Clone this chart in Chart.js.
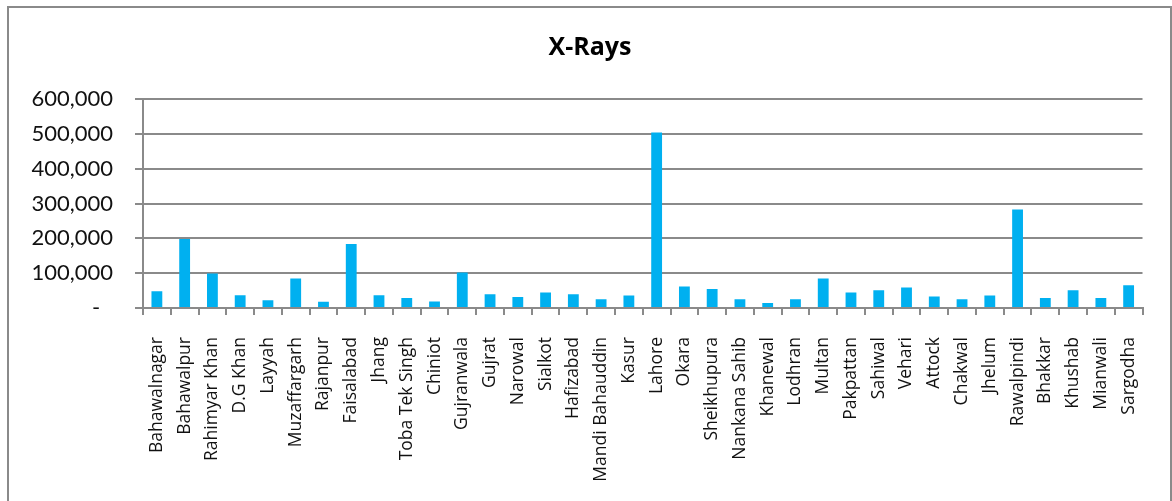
<!DOCTYPE html>
<html>
<head>
<meta charset="utf-8">
<title>X-Rays</title>
<script src="https://cdn.jsdelivr.net/npm/chart.js@4"></script>
<style>
  html, body { margin: 0; padding: 0; background: #fff; overflow: hidden; }
  #wrap { position: relative; width: 1172px; height: 501px; }
  #frame {
    position: absolute; left: 7px; top: 6px; width: 1161px; height: 530px;
    border: 2px solid #8a8a8a; pointer-events: none;
  }
  canvas { position: absolute; left: 0; top: 0; }
</style>
</head>
<body>
<div id="wrap">
  <canvas id="xrayChart" width="1172" height="501"></canvas>
  <div id="frame"></div>
</div>
<script>
const districts = [
  "Bahawalnagar", "Bahawalpur", "Rahimyar Khan", "D.G Khan", "Layyah",
  "Muzaffargarh", "Rajanpur", "Faisalabad", "Jhang", "Toba Tek Singh",
  "Chiniot", "Gujranwala", "Gujrat", "Narowal", "Sialkot", "Hafizabad",
  "Mandi Bahauddin", "Kasur", "Lahore", "Okara", "Sheikhupura",
  "Nankana Sahib", "Khanewal", "Lodhran", "Multan", "Pakpattan", "Sahiwal",
  "Vehari", "Attock", "Chakwal", "Jhelum", "Rawalpindi", "Bhakkar",
  "Khushab", "Mianwali", "Sargodha"
];

// number of x-ray examinations per district
const xrays = [
  48000, 198000, 99000, 36500, 22000,
  84500, 18000, 184000, 36500, 28700,
  18400, 101700, 39400, 31600, 44200, 39400,
  25000, 35600, 504000, 61500, 54600,
  25000, 14400, 25000, 84500, 44200, 50900,
  58600, 32800, 25000, 35600, 282800, 28700,
  50900, 28700, 65200
];

const yTicks = [0, 100000, 200000, 300000, 400000, 500000, 600000];

const gridGray = "#8a8a8a";
const numFont = "Lato, 'Liberation Sans', sans-serif";
const labelFont = "'Open Sans', 'Noto Sans', sans-serif";

// accounting style: zero shows as a dash
function formatCount(v) {
  if (v === 0) return "-\u2007";
  return v.toLocaleString("en-US");
}

const ctx = document.querySelector("#xrayChart");

new Chart(ctx, {
  type: "bar",
  data: {
    labels: districts,
    datasets: [{
      label: "X-Rays",
      data: xrays,
      backgroundColor: "#00B0F0",
      borderWidth: 0,
      categoryPercentage: 1,
      barPercentage: 0.39
    }]
  },
  options: {
    responsive: false,
    animation: false,
    devicePixelRatio: 1,
    layout: { padding: { left: 8, right: 0, top: 0, bottom: 0 } },
    plugins: {
      legend: { display: false },
      tooltip: { enabled: false },
      title: {
        display: true,
        text: "X-Rays",
        color: "#000",
        font: { family: labelFont, size: 25, weight: "bold" },
        padding: { top: 33, bottom: 36 }
      }
    },
    scales: {
      x: {
        grid: {
          display: true,
          drawOnChartArea: false,
          drawTicks: true,
          tickLength: 7,
          color: gridGray,
          lineWidth: 2
        },
        border: { display: true, color: gridGray, width: 2 },
        ticks: {
          autoSkip: false,
          maxRotation: 90,
          minRotation: 90,
          padding: 22,
          color: "#111",
          font: { family: labelFont, size: 17.5 }
        },
        afterFit(scale) { scale.height = 193; }
      },
      y: {
        min: 0,
        max: 600000,
        afterBuildTicks(scale) {
          scale.ticks = yTicks.map(v => ({ value: v }));
        },
        grid: {
          color: gridGray,
          lineWidth: 2,
          tickLength: 8
        },
        border: { display: true, color: gridGray, width: 2 },
        ticks: {
          padding: 22,
          color: "#111",
          font: { family: numFont, size: 22 },
          callback: v => formatCount(v)
        },
        afterFit(scale) { scale.width = 135; }
      },
      // empty right-hand gutter so the title centres on the whole frame
      gutter: {
        type: "linear",
        position: "right",
        display: true,
        grid: { display: false },
        border: { display: false },
        ticks: { display: false },
        afterFit(scale) { scale.width = 27; }
      }
    }
  }
});
</script>
</body>
</html>
